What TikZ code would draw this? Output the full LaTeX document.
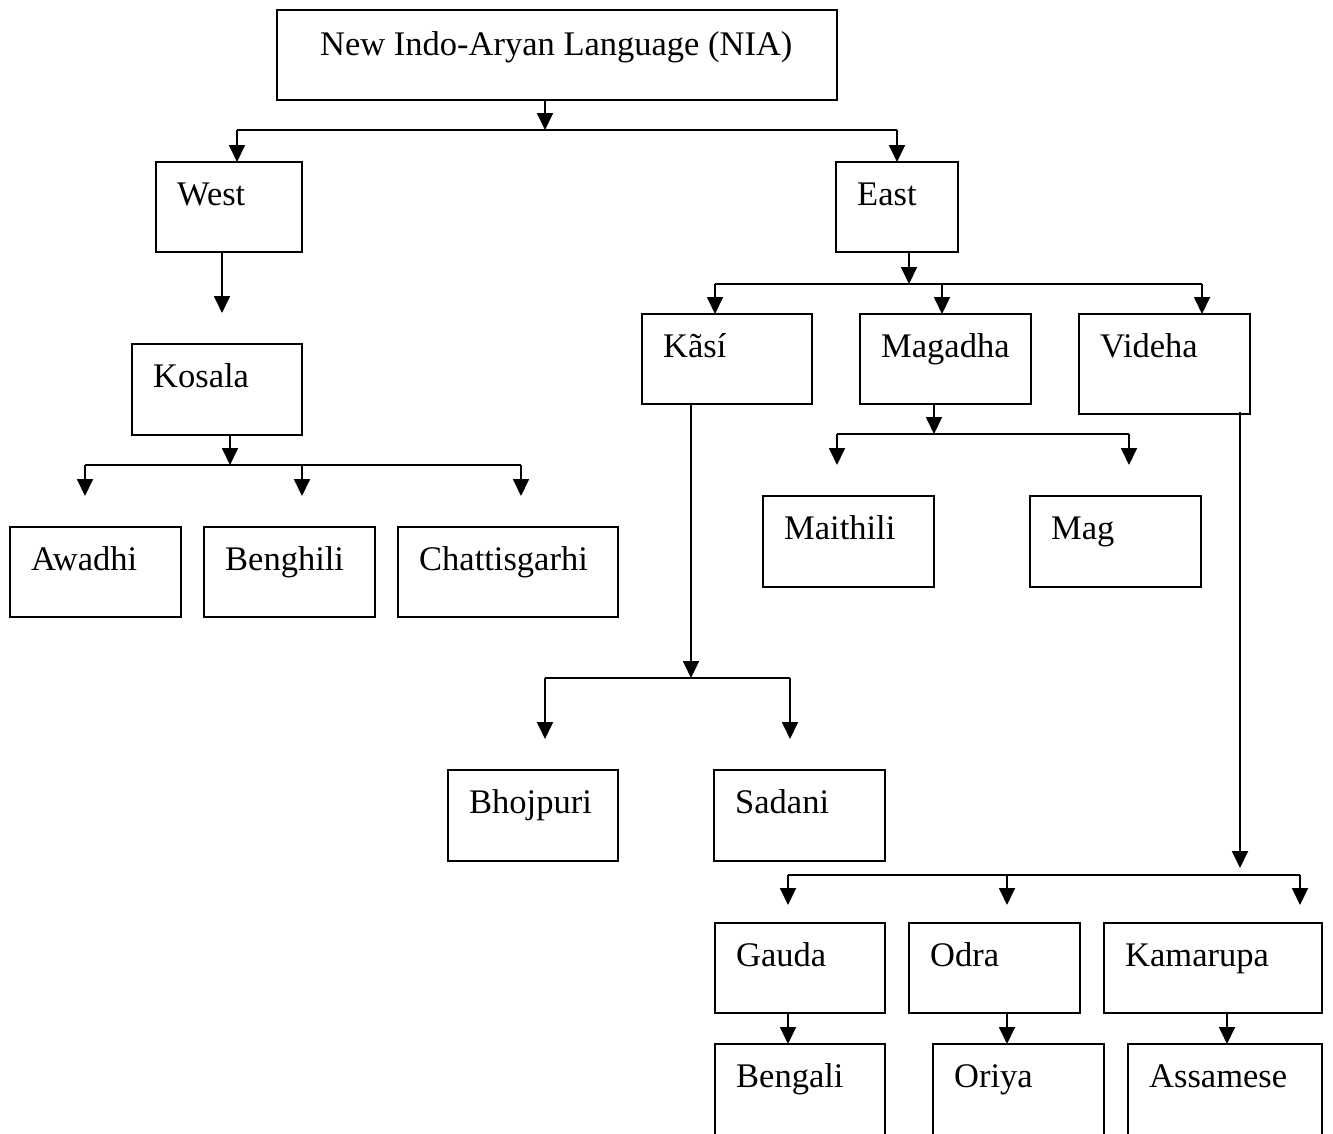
\documentclass[tikz,border=0pt]{standalone}
\usepackage{fontspec}
\setmainfont{Liberation Serif}
\usetikzlibrary{arrows.meta}

% box: named rectangle from (x1,y1) to (x2,y2) with its label at the top left
\newcommand\langbox[6]{%
  \node[box, minimum width={(#4-#2)*1pt}, minimum height={(#5-#3)*1pt}] (#1) at (#2,#3) {};
  \node[lbl] (#1-t) at (#2+21,#3+43) {#6};}

\begin{document}
\begin{tikzpicture}[x=1pt,y=-1pt,
  box/.style={draw, line width=1.8pt, rectangle, inner sep=0pt, outer sep=0pt, anchor=north west},
  lbl/.style={anchor=base west, inner sep=0pt, font=\fontsize{34.5}{41}\selectfont},
  link/.style={line width=1.8pt},
  arr/.style={line width=1.8pt, -{Triangle[length=17pt,width=16pt]}}]

\useasboundingbox (0,0) rectangle (1333,1133);
\clip (0,0) rectangle (1333,1133);

% root
\node[box, minimum width=560pt, minimum height=90pt] (nia) at (277,10) {};
\node[lbl] (nia-t) at (320,55) {New Indo-Aryan Language (NIA)};

% first level
\langbox{west}{156}{162}{302}{252}{West}
\langbox{east}{836}{162}{958}{252}{East}

% western branch
\langbox{kosala}{132}{344}{302}{435}{Kosala}
\langbox{awadhi}{10}{527}{181}{617}{Awadhi}
\langbox{benghili}{204}{527}{375}{617}{Benghili}
\langbox{chatt}{398}{527}{618}{617}{Chattisgarhi}

% eastern branch
\langbox{kasi}{642}{314}{812}{404}{Kãsí}
\langbox{magadha}{860}{314}{1031}{404}{Magadha}
\langbox{videha}{1079}{314}{1250}{414}{Videha}
\langbox{maithili}{763}{496}{934}{587}{Maithili}
\langbox{mag}{1030}{496}{1201}{587}{Mag}
\langbox{bhojpuri}{448}{770}{618}{861}{Bhojpuri}
\langbox{sadani}{714}{770}{885}{861}{Sadani}
\langbox{gauda}{715}{923}{885}{1013}{Gauda}
\langbox{odra}{909}{923}{1080}{1013}{Odra}
\langbox{kamarupa}{1104}{923}{1322}{1013}{Kamarupa}
\langbox{bengali}{715}{1044}{885}{1150}{Bengali}
\langbox{oriya}{933}{1044}{1104}{1150}{Oriya}
\langbox{assamese}{1128}{1044}{1322}{1150}{Assamese}

% NIA -> West / East
\coordinate (r0) at (545,130);
\coordinate (rL) at (237,130);
\coordinate (rR) at (897,130);
\draw[arr] (nia.south -| r0) -- (r0);
\draw[link] (rL) -- (rR);
\draw[arr] (rL) -- (rL |- west.north);
\draw[arr] (rR) -- (rR |- east.north);

% West -> Kosala
\coordinate (w0) at (222,313);
\draw[arr] (west.south -| w0) -- (w0);

% Kosala -> Awadhi / Benghili / Chattisgarhi
\coordinate (k0) at (230,465);
\coordinate (kL) at (85,465);
\coordinate (kM) at (302,465);
\coordinate (kR) at (521,465);
\coordinate (kLe) at (85,496);
\coordinate (kMe) at (302,496);
\coordinate (kRe) at (521,496);
\draw[arr] (kosala.south -| k0) -- (k0);
\draw[link] (kL) -- (kR);
\draw[arr] (kL) -- (kLe);
\draw[arr] (kM) -- (kMe);
\draw[arr] (kR) -- (kRe);

% East -> Kasi / Magadha / Videha
\coordinate (e0) at (909,284);
\coordinate (eL) at (715,284);
\coordinate (eM) at (942,284);
\coordinate (eR) at (1202,284);
\draw[arr] (east.south -| e0) -- (e0);
\draw[link] (eL) -- (eR);
\draw[arr] (eL) -- (eL |- kasi.north);
\draw[arr] (eM) -- (eM |- magadha.north);
\draw[arr] (eR) -- (eR |- videha.north);

% Magadha -> Maithili / Mag
\coordinate (m0) at (934,434);
\coordinate (mL) at (837,434);
\coordinate (mR) at (1129,434);
\coordinate (mLe) at (837,465);
\coordinate (mRe) at (1129,465);
\draw[arr] (magadha.south -| m0) -- (m0);
\draw[link] (mL) -- (mR);
\draw[arr] (mL) -- (mLe);
\draw[arr] (mR) -- (mRe);

% Kasi -> Bhojpuri / Sadani
\coordinate (s0) at (691,678);
\coordinate (sL) at (545,678);
\coordinate (sR) at (790,678);
\coordinate (sLe) at (545,739);
\coordinate (sRe) at (790,739);
\draw[arr] (kasi.south -| s0) -- (s0);
\draw[link] (sL) -- (sR);
\draw[arr] (sL) -- (sLe);
\draw[arr] (sR) -- (sRe);

% Videha -> Gauda / Odra / Kamarupa
\coordinate (v1) at (1240,412);
\coordinate (v0) at (1240,868);
\coordinate (vL) at (788,875);
\coordinate (vM) at (1007,875);
\coordinate (vR) at (1300,875);
\coordinate (vLe) at (788,905);
\coordinate (vMe) at (1007,905);
\coordinate (vRe) at (1300,905);
\draw[arr] (v1) -- (v0);
\draw[link] (vL) -- (vR);
\draw[arr] (vL) -- (vLe);
\draw[arr] (vM) -- (vMe);
\draw[arr] (vR) -- (vRe);

% Gauda / Odra / Kamarupa -> Bengali / Oriya / Assamese
\coordinate (g0) at (788,0);
\coordinate (o0) at (1007,0);
\coordinate (c0) at (1227,0);
\draw[arr] (gauda.south -| g0) -- (bengali.north -| g0);
\draw[arr] (odra.south -| o0) -- (oriya.north -| o0);
\draw[arr] (kamarupa.south -| c0) -- (assamese.north -| c0);

\end{tikzpicture}
\end{document}
